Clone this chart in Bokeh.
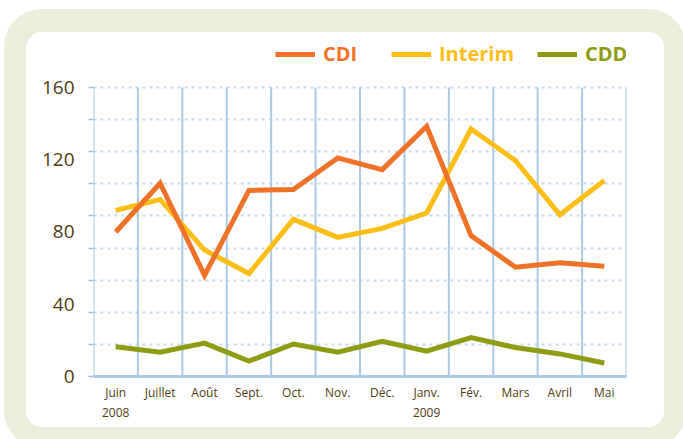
from bokeh.plotting import figure
from bokeh.models import Range1d, FixedTicker, Legend, LegendItem
from bokeh.embed import file_html
from bokeh.resources import INLINE

months = ["Juin\n2008", "Juillet", "Août", "Sept.", "Oct.", "Nov.", "Déc.",
          "Janv.\n2009", "Fév.", "Mars", "Avril", "Mai"]
cdi = [80, 107, 56, 103, 103.5, 121, 114.5, 138.5, 78, 60.5, 63, 61]
interim = [92, 98, 70, 57, 87, 77, 82, 90.5, 137, 119.5, 89.5, 108.5]
cdd = [16.5, 13.5, 18.5, 8.5, 18, 13.5, 19.5, 14, 21.5, 16, 12.5, 7.5]
y_ticks = [0, 40, 80, 120, 160]

C_CDI = "#f07228"
C_INT = "#fdbe16"
C_CDD = "#8d9c12"
BLUE = "#abcae8"
TXT = "#4e3d10"

xs = list(range(len(months)))
bounds = [i - 0.5 for i in range(len(months) + 1)]

p = figure(width=638, height=395, x_range=Range1d(-0.5, 11.5), y_range=Range1d(0, 186),
           output_backend="svg", toolbar_location=None,
           min_border_left=67, min_border_right=38, min_border_top=8, min_border_bottom=51)
p.margin = (32, 0, 0, 26)
p.styles = {"background-color": "white", "border-radius": "16px",
            "box-shadow": "0 -1px 0 22px #ecedda"}
p.border_fill_color = None
p.background_fill_color = None
p.outline_line_color = None

# grids
p.xgrid.grid_line_color = None
p.segment(x0=bounds, y0=[y_ticks[0]] * len(bounds), x1=bounds, y1=[y_ticks[-1]] * len(bounds),
          line_color=BLUE, line_width=2)
grid_y = [i * 160 / 9 for i in range(10)]
p.ygrid.ticker = FixedTicker(ticks=grid_y)
p.ygrid.grid_line_color = "#c6dcf2"
p.ygrid.grid_line_width = 2
p.ygrid.grid_line_dash = "3 4"

# axes
p.xaxis.ticker = FixedTicker(ticks=xs)
p.xaxis.major_label_overrides = {i: m for i, m in enumerate(months)}
p.xaxis.axis_line_color = BLUE
p.xaxis.axis_line_width = 3
p.xaxis.major_tick_line_color = None
p.xaxis.minor_tick_line_color = None
p.xaxis.major_tick_out = 0
p.xaxis.major_label_standoff = 7
p.xaxis.major_label_text_font = "Open Sans"
p.xaxis.major_label_text_font_size = "12px"
p.xaxis.major_label_text_color = TXT

p.yaxis.ticker = FixedTicker(ticks=y_ticks, minor_ticks=grid_y)
p.yaxis.axis_line_color = None
p.yaxis.major_tick_line_color = None
p.yaxis.major_tick_out = 0
p.yaxis.minor_tick_line_color = "#9cbfe0"
p.yaxis.minor_tick_line_width = 1.5
p.yaxis.minor_tick_out = 5
p.yaxis.minor_tick_in = 0
p.yaxis.major_label_standoff = 14
p.yaxis.major_label_text_font = "Open Sans"
p.yaxis.major_label_text_font_size = "19px"
p.yaxis.major_label_text_color = TXT

# lines
r_cdd = p.line(xs, cdd, line_color=C_CDD, line_width=5, line_join="miter")
r_int = p.line(xs, interim, line_color=C_INT, line_width=5, line_join="miter")
r_cdi = p.line(xs, cdi, line_color=C_CDI, line_width=5, line_join="miter")

# one legend per series so each label keeps its series colour
specs = [("CDI", C_CDI, r_cdi, 182), ("Interim", C_INT, r_int, 298), ("CDD", C_CDD, r_cdd, 444)]
for name, col, r, xpos in specs:
    lg = Legend(items=[LegendItem(label=name, renderers=[r])],
                location=(xpos, 309), orientation="horizontal",
                background_fill_alpha=0, border_line_color=None,
                padding=0, margin=0, glyph_width=40, glyph_height=20,
                label_height=20, label_standoff=8,
                label_text_font="Open Sans", label_text_font_style="bold",
                label_text_font_size="20px", label_text_color=col)
    p.add_layout(lg, "center")

open("out.html", "w").write(file_html(p, INLINE))
